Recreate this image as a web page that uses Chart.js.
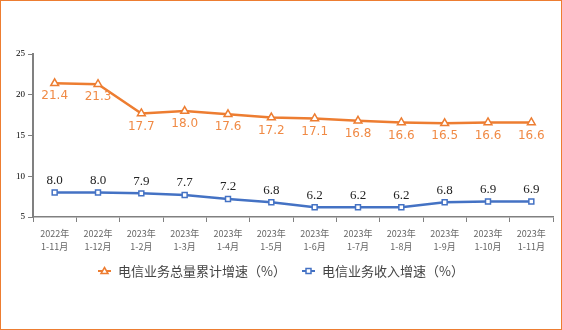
<!DOCTYPE html>
<html>
<head>
<meta charset="utf-8">
<script src="https://cdn.jsdelivr.net/npm/chart.js@4/dist/chart.umd.min.js"></script>
<style>
  html, body { margin: 0; padding: 0; background: #fff; }
  #wrap { width: 560px; height: 328px; border: 1px solid #ED7D31; position: relative; }
  canvas { position: absolute; left: -1px; top: -1px; }
</style>
</head>
<body>
<div id="wrap"><canvas id="growthChart" width="562" height="330"></canvas></div>
<script>
const periods = [
    ['2022年', '1-11月'], ['2022年', '1-12月'], ['2023年', '1-2月'], ['2023年', '1-3月'],
    ['2023年', '1-4月'], ['2023年', '1-5月'], ['2023年', '1-6月'], ['2023年', '1-7月'],
    ['2023年', '1-8月'], ['2023年', '1-9月'], ['2023年', '1-10月'], ['2023年', '1-11月']
];
const volumeGrowth = [21.4, 21.3, 17.7, 18.0, 17.6, 17.2, 17.1, 16.8, 16.6, 16.5, 16.6, 16.6];
const revenueGrowth = [8.0, 8.0, 7.9, 7.7, 7.2, 6.8, 6.2, 6.2, 6.2, 6.8, 6.9, 6.9];
const seriesNames = ['电信业务总量累计增速（%）', '电信业务收入增速（%）'];
const yTicks = [5, 10, 15, 20, 25];

const ORANGE = '#ED7D31';
const BLUE = '#4472C4';

// value labels: orange under the line, blue above it
const valueLabels = {
    id: 'valueLabels',
    afterDatasetsDraw(chart) {
        const ctx = chart.ctx;
        ctx.save();
        ctx.textAlign = 'center';
        ctx.textBaseline = 'middle';
        chart.getDatasetMeta(0).data.forEach((pt, i) => {
            ctx.font = '12px "DejaVu Sans"';
            ctx.fillStyle = '#F08A45';
            ctx.fillText(volumeGrowth[i].toFixed(1), pt.x, pt.y + 13);
        });
        chart.getDatasetMeta(1).data.forEach((pt, i) => {
            ctx.font = '13px "Liberation Serif"';
            ctx.fillStyle = '#222';
            ctx.fillText(revenueGrowth[i].toFixed(1), pt.x, pt.y - 12);
        });
        ctx.restore();
    }
};

// legend drawn by hand so the line runs through the marker
const lineLegend = {
    id: 'lineLegend',
    afterDraw(chart) {
        const ctx = chart.ctx;
        const y = 271;
        const items = [
            { x: 98, color: ORANGE, marker: 'triangle', text: seriesNames[0] },
            { x: 302, color: BLUE, marker: 'rect', text: seriesNames[1] }
        ];
        ctx.save();
        items.forEach(it => {
            ctx.strokeStyle = it.color;
            ctx.lineWidth = 2;
            ctx.beginPath();
            ctx.moveTo(it.x, y);
            ctx.lineTo(it.x + 13, y);
            ctx.stroke();
            ctx.fillStyle = '#fff';
            ctx.lineWidth = 1.5;
            ctx.beginPath();
            const cx = it.x + 6.5;
            if (it.marker === 'triangle') {
                ctx.moveTo(cx, y - 3.5);
                ctx.lineTo(cx + 3.5, y + 2.5);
                ctx.lineTo(cx - 3.5, y + 2.5);
                ctx.closePath();
            } else {
                ctx.rect(cx - 2.5, y - 2.5, 5, 5);
            }
            ctx.fill();
            ctx.stroke();
            ctx.font = '13px "Noto Sans CJK SC"';
            ctx.fillStyle = '#444';
            ctx.textAlign = 'left';
            ctx.textBaseline = 'middle';
            ctx.fillText(it.text, it.x + 20, y);
        });
        ctx.restore();
    }
};

const config = {
    type: 'line',
    data: {
        labels: periods,
        datasets: [{
            label: seriesNames[0],
            data: volumeGrowth,
            borderColor: ORANGE,
            borderWidth: 2.5,
            pointStyle: 'triangle',
            pointRadius: 4.5,
            pointBorderWidth: 1.5,
            pointBackgroundColor: '#fff',
            pointBorderColor: ORANGE,
            tension: 0
        }, {
            label: seriesNames[1],
            data: revenueGrowth,
            borderColor: BLUE,
            borderWidth: 2.5,
            pointStyle: 'rect',
            pointRadius: 3.5,
            pointBorderWidth: 1.5,
            pointBackgroundColor: '#fff',
            pointBorderColor: BLUE,
            tension: 0
        }]
    },
    options: {
        responsive: false,
        animation: false,
        layout: {
            padding: { left: 0, top: 54, right: 9, bottom: 73 }
        },
        plugins: {
            legend: { display: false },
            tooltip: { enabled: false }
        },
        scales: {
            x: {
                offset: true,
                grid: {
                    offset: true,
                    drawOnChartArea: false,
                    drawTicks: true,
                    tickLength: 5,
                    color: '#808080'
                },
                border: { color: '#808080', width: 1.5 },
                ticks: {
                    color: '#666',
                    font: { family: '"Noto Sans CJK SC"', size: 9, lineHeight: 1.45 },
                    padding: 5,
                    maxRotation: 0,
                    autoSkip: false
                },
                afterFit(scale) { scale.height = 40; }
            },
            y: {
                min: 5,
                max: 25,
                afterBuildTicks(scale) { scale.ticks = yTicks.map(v => ({ value: v })); },
                grid: {
                    drawOnChartArea: false,
                    drawTicks: true,
                    tickLength: 5,
                    color: '#808080'
                },
                border: { color: '#808080', width: 2 },
                ticks: {
                    color: '#000',
                    font: { family: '"Liberation Serif"', size: 9 },
                    padding: 3
                },
                afterFit(scale) { scale.width = 33; }
            }
        }
    },
    plugins: [valueLabels, lineLegend]
};

const growthChart = new Chart(document.getElementById('growthChart'), config);
</script>
</body>
</html>
